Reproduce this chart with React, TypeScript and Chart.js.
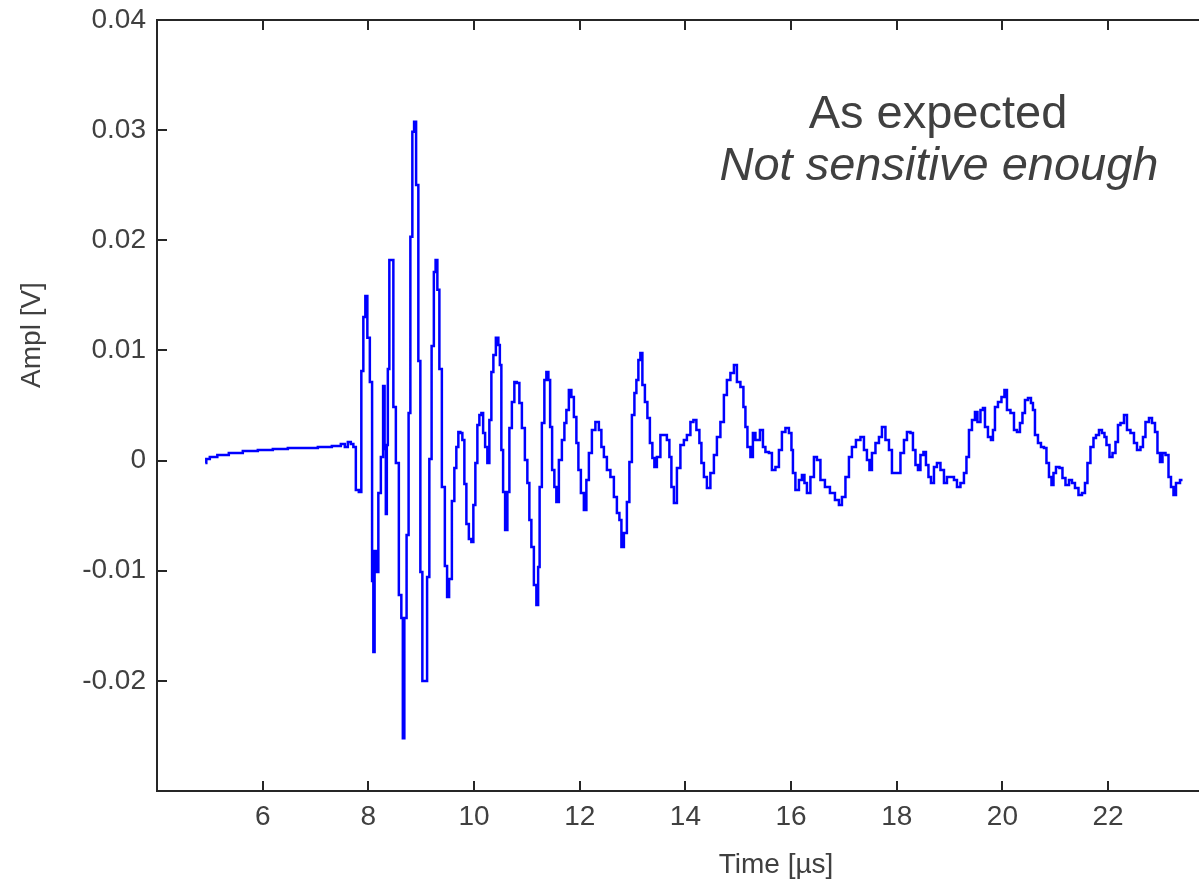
import React, { useEffect, useRef } from 'react';
import { Chart, registerables } from 'chart.js';

Chart.register(...registerables);

const timeUs: number[] = [
  4.914, 4.952, 5.047, 5.236, 5.482, 5.766, 6.050, 6.334, 6.618, 6.902,
  7.186, 7.432, 7.526, 7.583, 7.640, 7.697, 7.735, 7.791, 7.848, 7.886,
  7.924, 7.962, 8.000, 8.056, 8.085, 8.104, 8.132, 8.170, 8.208, 8.265,
  8.293, 8.321, 8.340, 8.359, 8.378, 8.416, 8.454, 8.492, 8.549, 8.605,
  8.643, 8.662, 8.700, 8.747, 8.776, 8.814, 8.851, 8.880, 8.927, 8.965,
  9.003, 9.041, 9.088, 9.135, 9.173, 9.221, 9.258, 9.287, 9.325, 9.363,
  9.419, 9.476, 9.504, 9.552, 9.609, 9.646, 9.684, 9.722, 9.760, 9.798,
  9.836, 9.874, 9.930, 9.968, 10.006, 10.044, 10.082, 10.120, 10.158, 10.186,
  10.233, 10.271, 10.309, 10.347, 10.385, 10.441, 10.479, 10.498, 10.536, 10.564,
  10.612, 10.650, 10.688, 10.744, 10.782, 10.839, 10.877, 10.934, 10.990, 11.028,
  11.066, 11.104, 11.161, 11.199, 11.227, 11.255, 11.312, 11.350, 11.388, 11.426,
  11.454, 11.501, 11.539, 11.577, 11.634, 11.691, 11.729, 11.766, 11.823, 11.861,
  11.918, 11.956, 11.994, 12.050, 12.107, 12.145, 12.202, 12.259, 12.334, 12.391,
  12.429, 12.486, 12.543, 12.618, 12.675, 12.732, 12.770, 12.808, 12.864, 12.921,
  12.959, 13.016, 13.054, 13.091, 13.129, 13.167, 13.205, 13.262, 13.300, 13.356,
  13.394, 13.432, 13.489, 13.565, 13.621, 13.678, 13.716, 13.754, 13.811, 13.868,
  13.943, 14.000, 14.057, 14.133, 14.170, 14.246, 14.284, 14.322, 14.379, 14.435,
  14.511, 14.568, 14.625, 14.700, 14.757, 14.814, 14.890, 14.947, 15.003, 15.079,
  15.117, 15.155, 15.193, 15.268, 15.287, 15.363, 15.458, 15.477, 15.552, 15.609,
  15.666, 15.742, 15.798, 15.855, 15.931, 15.988, 16.026, 16.044, 16.120, 16.177,
  16.234, 16.272, 16.328, 16.404, 16.461, 16.518, 16.593, 16.688, 16.783, 16.877,
  16.934, 16.991, 17.067, 17.123, 17.180, 17.275, 17.351, 17.407, 17.464, 17.502,
  17.559, 17.635, 17.691, 17.748, 17.824, 17.881, 17.937, 18.032, 18.108, 18.165,
  18.221, 18.297, 18.316, 18.392, 18.411, 18.486, 18.524, 18.581, 18.619, 18.676,
  18.732, 18.789, 18.865, 18.922, 18.978, 19.054, 19.111, 19.168, 19.243, 19.300,
  19.338, 19.395, 19.452, 19.508, 19.546, 19.622, 19.641, 19.698, 19.754, 19.811,
  19.830, 19.887, 19.944, 20.019, 20.057, 20.114, 20.190, 20.247, 20.303, 20.360,
  20.398, 20.455, 20.512, 20.568, 20.587, 20.644, 20.701, 20.758, 20.814, 20.852,
  20.909, 20.947, 20.985, 21.041, 21.117, 21.155, 21.231, 21.288, 21.344, 21.401,
  21.477, 21.534, 21.590, 21.628, 21.704, 21.742, 21.799, 21.855, 21.912, 21.950,
  21.988, 22.064, 22.102, 22.177, 22.196, 22.272, 22.329, 22.385, 22.461, 22.518,
  22.575, 22.650, 22.669, 22.745, 22.802, 22.859, 22.915, 22.953, 23.010, 23.048,
  23.124, 23.162, 23.218, 23.256, 23.313, 23.408,
];

const amplV: number[] = [
  -0.00022, 0.00015, 0.00033, 0.00051, 0.00069, 0.00087, 0.00096, 0.00105, 0.00114, 0.00114,
  0.00124, 0.00133, 0.00151, 0.00124, 0.00169, 0.00151, 0.00124, -0.00267, -0.00285, 0.00814,
  0.01304, 0.01495, 0.01114, 0.00714, -0.01094, -0.01739, -0.00821, -0.01012, -0.00294, 0.00033,
  0.00678, 0.00105, -0.00485, 0.00142, 0.00832, 0.01822, 0.01822, 0.00487, -0.00022, -0.01221,
  -0.01430, -0.02520, -0.01430, -0.00676, 0.00432, 0.02031, 0.02985, 0.03076, 0.02503, 0.00905,
  -0.01012, -0.02002, -0.02002, -0.01057, 0.00015, 0.01041, 0.01713, 0.01822, 0.01550, 0.00832,
  -0.00240, -0.00957, -0.01239, -0.01075, -0.00367, -0.00067, 0.00124, 0.00260, 0.00251, 0.00187,
  -0.00213, -0.00576, -0.00712, -0.00739, -0.00403, -0.00022, 0.00323, 0.00414, 0.00432, 0.00251,
  0.00124, -0.00022, 0.00369, 0.00805, 0.00959, 0.01114, 0.01050, 0.00868, 0.00096, -0.00285,
  -0.00630, -0.00285, 0.00296, 0.00532, 0.00714, 0.00705, 0.00523, 0.00296, 0.00005, -0.00203,
  -0.00540, -0.00785, -0.01130, -0.01312, -0.00966, -0.00240, 0.00342, 0.00732, 0.00805, 0.00732,
  0.00305, -0.00085, -0.00240, -0.00376, 0.00005, 0.00187, 0.00342, 0.00460, 0.00641, 0.00578,
  0.00396, 0.00160, -0.00085, -0.00294, -0.00449, -0.00176, 0.00069, 0.00278, 0.00351, 0.00278,
  0.00124, 0.00033, -0.00085, -0.00149, -0.00331, -0.00476, -0.00540, -0.00785, -0.00658, -0.00376,
  -0.00013, 0.00414, 0.00614, 0.00732, 0.00914, 0.00977, 0.00687, 0.00532, 0.00387, 0.00160,
  0.00024, -0.00058, 0.00033, 0.00233, 0.00233, 0.00187, 0.00033, -0.00240, -0.00385, -0.00067,
  0.00142, 0.00187, 0.00233, 0.00351, 0.00369, 0.00278, 0.00160, -0.00022, -0.00149, -0.00249,
  -0.00113, 0.00051, 0.00214, 0.00351, 0.00596, 0.00732, 0.00796, 0.00868, 0.00714, 0.00669,
  0.00487, 0.00305, 0.00124, 0.00033, 0.00251, 0.00187, 0.00278, 0.00124, 0.00078, 0.00069,
  -0.00085, -0.00058, 0.00096, 0.00260, 0.00296, 0.00251, 0.00096, -0.00113, -0.00267, -0.00176,
  -0.00131, -0.00203, -0.00294, -0.00149, 0.00033, 0.00005, -0.00176, -0.00240, -0.00294, -0.00358,
  -0.00403, -0.00331, -0.00149, 0.00033, 0.00124, 0.00187, 0.00214, 0.00096, 0.00005, -0.00085,
  0.00069, 0.00160, 0.00214, 0.00305, 0.00187, 0.00096, -0.00113, -0.00113, 0.00069, 0.00187,
  0.00260, 0.00251, 0.00096, -0.00040, -0.00085, 0.00051, 0.00078, -0.00040, -0.00149, -0.00203,
  -0.00058, -0.00022, -0.00085, -0.00203, -0.00149, -0.00149, -0.00176, -0.00240, -0.00203, -0.00113,
  0.00033, 0.00278, 0.00369, 0.00441, 0.00351, 0.00460, 0.00478, 0.00305, 0.00214, 0.00187,
  0.00278, 0.00487, 0.00532, 0.00578, 0.00641, 0.00460, 0.00432, 0.00278, 0.00260, 0.00342,
  0.00432, 0.00550, 0.00569, 0.00523, 0.00460, 0.00233, 0.00160, 0.00124, 0.00114, -0.00022,
  -0.00149, -0.00222, -0.00113, -0.00058, -0.00067, -0.00158, -0.00222, -0.00176, -0.00203, -0.00249,
  -0.00312, -0.00294, -0.00203, -0.00022, 0.00124, 0.00205, 0.00233, 0.00278, 0.00251, 0.00214,
  0.00142, 0.00033, 0.00069, 0.00169, 0.00323, 0.00342, 0.00414, 0.00278, 0.00251, 0.00160,
  0.00096, 0.00124, 0.00214, 0.00351, 0.00387, 0.00342, 0.00260, 0.00069, -0.00013, 0.00069,
  0.00051, -0.00149, -0.00240, -0.00312, -0.00203, -0.00176,
];

const xTicks: number[] = [6, 8, 10, 12, 14, 16, 18, 20, 22];
const yTicks: number[] = [-0.02, -0.01, 0, 0.01, 0.02, 0.03, 0.04];
const xRange: number[] = [4, 23.72];
const yRange: number[] = [-0.03, 0.04];
const xTitle = 'Time [µs]';
const yTitle = 'Ampl [V]';
const noteLines: string[] = ['As expected', 'Not sensitive enough'];

const FONT = '"Liberation Sans", Arial, Helvetica, sans-serif';
const TEXT = '#404040';
const AXIS = '#262626';
const TRACE = '#0000ff';

export default function App() {
  const ref = useRef<HTMLCanvasElement | null>(null);

  useEffect(() => {
    const canvas = ref.current;
    if (!canvas) return;

    const framePlugin = {
      id: 'framePlugin',
      afterDraw(chart: any) {
        const { ctx, chartArea: a, scales } = chart;
        const xs = scales.x;
        const ys = scales.y;
        ctx.save();
        ctx.strokeStyle = AXIS;
        ctx.lineWidth = 2;
        ctx.lineCap = 'butt';
        ctx.beginPath();
        ctx.moveTo(a.left, a.top);
        ctx.lineTo(a.right, a.top);
        ctx.moveTo(a.left, a.top - 1);
        ctx.lineTo(a.left, a.bottom + 1);
        ctx.moveTo(a.left, a.bottom);
        ctx.lineTo(a.right, a.bottom);
        for (const t of xTicks) {
          const px = Math.round(xs.getPixelForValue(t));
          ctx.moveTo(px, a.bottom);
          ctx.lineTo(px, a.bottom - 10);
          ctx.moveTo(px, a.top);
          ctx.lineTo(px, a.top + 10);
        }
        for (const v of yTicks) {
          const py = Math.round(ys.getPixelForValue(v));
          ctx.moveTo(a.left, py);
          ctx.lineTo(a.left + 10, py);
        }
        ctx.stroke();

        ctx.fillStyle = TEXT;
        // axis titles
        ctx.font = `28px ${FONT}`;
        ctx.textAlign = 'center';
        ctx.textBaseline = 'alphabetic';
        ctx.fillText(xTitle, 776, 873);
        ctx.save();
        ctx.translate(40, 335);
        ctx.rotate(-Math.PI / 2);
        ctx.fillText(yTitle, 0, 0);
        ctx.restore();

        // annotation
        ctx.font = `47px ${FONT}`;
        ctx.fillText(noteLines[0], 938, 128);
        ctx.font = `italic 47px ${FONT}`;
        ctx.fillText(noteLines[1], 939, 180);
        ctx.restore();
      },
    };

    const chart = new Chart(canvas, {
      type: 'line',
      data: {
        datasets: [
          {
            label: 'Ampl',
            data: timeUs.map((t, i) => ({ x: t, y: amplV[i] })),
            borderColor: TRACE,
            backgroundColor: TRACE,
            borderWidth: 2.5,
            pointRadius: 0,
            stepped: 'middle',
            fill: false,
          },
        ],
      },
      options: {
        animation: false,
        responsive: false,
        devicePixelRatio: 1,
        events: [],
        layout: { padding: { top: 20, right: 0, left: 0, bottom: 0 } },
        plugins: {
          legend: { display: false },
          tooltip: { enabled: false },
          title: { display: false },
        },
        scales: {
          x: {
            type: 'linear',
            min: xRange[0],
            max: xRange[1],
            grid: { display: false, drawTicks: false },
            border: { display: false },
            afterBuildTicks: (s: any) => {
              s.ticks = xTicks.map((v) => ({ value: v }));
            },
            afterFit: (s: any) => {
              s.height = 91;
              s.paddingLeft = 0;
              s.paddingRight = 0;
              s.paddingTop = 0;
              s.paddingBottom = 0;
            },
            ticks: {
              color: TEXT,
              font: { family: FONT, size: 28 },
              padding: 9,
              maxRotation: 0,
              autoSkip: false,
              callback: (v: any) => String(v),
            },
          },
          y: {
            type: 'linear',
            min: yRange[0],
            max: yRange[1],
            grid: { display: false, drawTicks: false },
            border: { display: false },
            afterBuildTicks: (s: any) => {
              s.ticks = yTicks.map((v) => ({ value: v }));
            },
            afterFit: (s: any) => {
              s.width = 157;
              s.paddingLeft = 0;
              s.paddingRight = 0;
              s.paddingTop = 0;
              s.paddingBottom = 0;
            },
            ticks: {
              color: TEXT,
              font: { family: FONT, size: 28 },
              padding: 11,
              autoSkip: false,
              callback: (v: any) => (v === 0 ? '0' : String(Number(Number(v).toFixed(2)))),
            },
          },
        },
      },
      plugins: [framePlugin],
    });

    return () => {
      chart.destroy();
    };
  }, []);

  return (
    <div style={{ position: 'absolute', left: 0, top: 0, width: 1199, height: 882, background: '#fff' }}>
      <canvas ref={ref} width={1199} height={882} style={{ display: 'block' }} />
    </div>
  );
}
